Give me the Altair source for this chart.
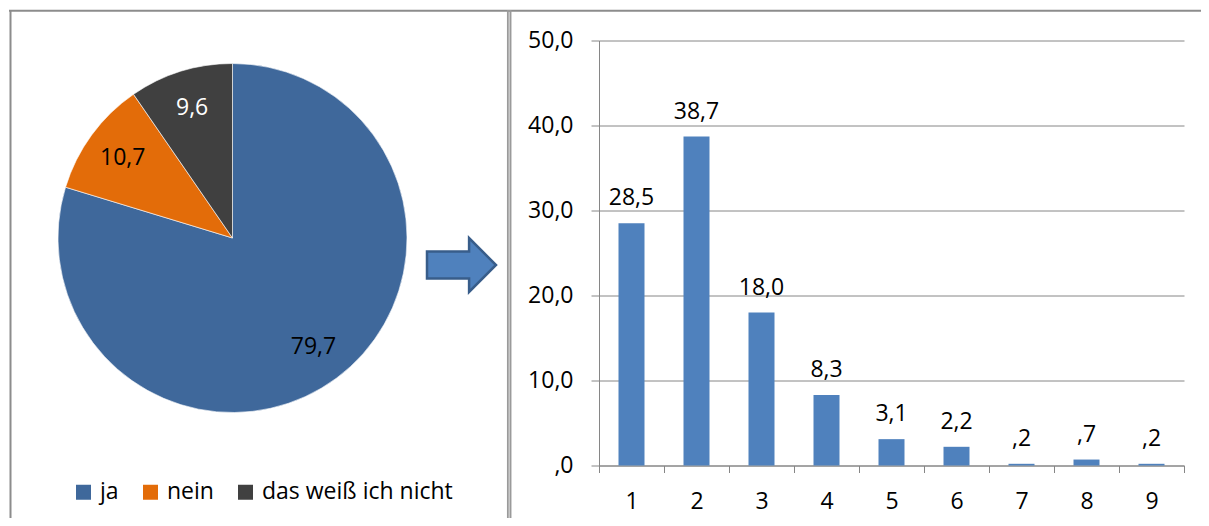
import altair as alt
import pandas as pd

# ---- data ----
pie_cats = ["ja", "nein", "das weiß ich nicht"]
pie_vals = [79.7, 10.7, 9.6]
pie_labels = ["79,7", "10,7", "9,6"]
pie_colors = ["#3F689B", "#E36C09", "#404040"]

bar_cats = ["1", "2", "3", "4", "5", "6", "7", "8", "9"]
bar_vals = [28.5, 38.7, 18.0, 8.3, 3.1, 2.2, 0.2, 0.7, 0.2]

y_ticks = [0, 10, 20, 30, 40, 50]

FONT = "Open Sans"
FS = 23
GRAY = "#868686"
BORDER = "#8c8c8c"

pie_df = pd.DataFrame({"cat": pie_cats, "v": pie_vals, "lab": pie_labels,
                       "idx": list(range(len(pie_cats)))})
bar_df = pd.DataFrame({"cat": bar_cats, "v": bar_vals})
dummy = pd.DataFrame({"d": [0]})

# view origin (plot area of bar chart) sits at page (599, 40.5)
OX, OY = 599, 40.5

def rule(x1, x2, y1, y2, color=BORDER, width=2.0):
    return alt.Chart(dummy).mark_rule(color=color, strokeWidth=width).encode(
        x=alt.value(x1 - OX), x2=alt.value(x2 - OX),
        y=alt.value(y1 - OY), y2=alt.value(y2 - OY))

borders = [
    rule(9, 1205, 10.8, 10.8),
    rule(10.5, 10.5, 10, 530),
    rule(509.2, 509.2, 10, 530, color="#9a9a9a", width=4.5),
    rule(509.2, 509.2, 12, 530, color="#d4d4d4", width=1.2),
]

pie_center_x = alt.value(232.5 - OX)
pie_center_y = alt.value(238 - OY)

pie = alt.Chart(pie_df).mark_arc(radius=174.5, stroke="white", strokeWidth=0.6).encode(
    theta=alt.Theta("v:Q", stack=True),
    order=alt.Order("idx:Q"),
    color=alt.Color("cat:N",
                    scale=alt.Scale(domain=pie_cats, range=pie_colors),
                    legend=alt.Legend(
                        orient="none", direction="horizontal", title=None,
                        legendX=72 - OX, legendY=480.5 - OY,
                        symbolType="square", symbolSize=225, symbolStrokeWidth=0,
                        labelFont=FONT, labelFontSize=FS, labelColor="#000000",
                        labelLimit=0,
                        labelOffset=5, columnPadding=20, padding=0)),
    x=pie_center_x, y=pie_center_y,
)

pie_text = alt.Chart(pie_df).mark_text(radius=136, font=FONT, fontSize=FS,
                                       baseline="middle", align="center").encode(
    theta=alt.Theta("v:Q", stack=True),
    order=alt.Order("idx:Q"),
    text="lab:N",
    color=alt.condition(alt.datum.cat == "das weiß ich nicht",
                        alt.value("#ffffff"), alt.value("#000000")),
    x=pie_center_x, y=pie_center_y,
)

arrow_path = "M-1,-0.39 L0.22,-0.39 L0.22,-0.78 L1,0 L0.22,0.78 L0.22,0.39 L-1,0.39 Z"
arrow = alt.Chart(dummy).mark_point(shape=arrow_path, size=4761, filled=True,
                                    fill="#4F81BD", stroke="#385D8A",
                                    strokeWidth=2.5, opacity=1).encode(
    x=alt.value(461.5 - OX), y=alt.value(265 - OY))

xenc = alt.X("cat:N", sort=bar_cats,
             scale=alt.Scale(paddingInner=0, paddingOuter=0),
             axis=alt.Axis(title=None, labelAngle=0, tickBand="extent",
                           tickSize=7, tickColor=GRAY, domainColor=GRAY,
                           labelFont=FONT, labelFontSize=FS, labelColor="#000000",
                           labelPadding=18, grid=False))
yenc = alt.Y("v:Q", scale=alt.Scale(domain=[0, 50], nice=False),
             axis=alt.Axis(title=None, values=y_ticks, tickSize=8, tickColor=GRAY,
                           domainColor=GRAY, grid=True, gridColor=GRAY,
                           labelFont=FONT, labelFontSize=FS, labelColor="#000000",
                           labelPadding=18,
                           labelExpr="datum.value == 0 ? ',0' : replace(format(datum.value, '.1f'), '.', ',')"))

bars = alt.Chart(bar_df).mark_bar(color="#4F81BD",
                                  width=alt.RelativeBandSize(0.4)).encode(x=xenc, y=yenc)

bar_text = alt.Chart(bar_df).transform_calculate(
    lab="datum.v < 1 ? replace(replace(format(datum.v, '.1f'), '.', ','), '0,', ',') : replace(format(datum.v, '.1f'), '.', ',')"
).mark_text(font=FONT, fontSize=FS, baseline="alphabetic", dy=-18, color="#000000").encode(
    x=alt.X("cat:N", sort=bar_cats), y=alt.Y("v:Q"), text="lab:N")

chart = alt.layer(*borders, pie, pie_text, arrow, bars, bar_text).properties(
    width=585, height=425,
    autosize=alt.AutoSizeParams(type="none"),
    padding={"left": OX - 8, "top": OY - 8, "right": 17,
             "bottom": 510 - (OY - 8) - 425},
    background="white",
).configure_view(stroke=None)

chart.save("out.html", embed_options={"renderer": "svg", "actions": False})
